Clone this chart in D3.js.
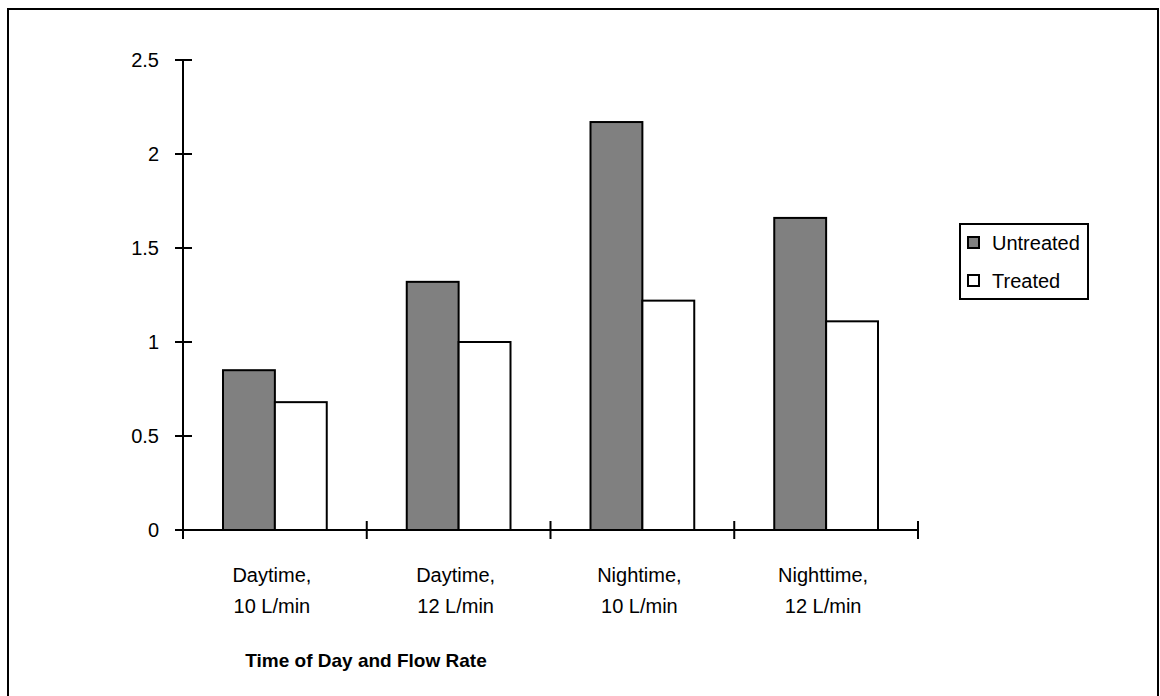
<!DOCTYPE html>
<html>
<head>
<meta charset="utf-8">
<script src="https://cdn.jsdelivr.net/npm/d3@7"></script>
<style>
  body { margin: 0; background: #fff; }
  svg { font-family: "Liberation Sans", Arial, sans-serif; }
</style>
</head>
<body>
<div id="chart"></div>
<script>
// data
const categories = [["Daytime,", "10 L/min"], ["Daytime,", "12 L/min"],
                    ["Nightime,", "10 L/min"], ["Nighttime,", "12 L/min"]];
const seriesNames = ["Untreated", "Treated"];
const untreated = [0.85, 1.32, 2.17, 1.66];
const treated = [0.68, 1.0, 1.22, 1.11];
const yTicks = [0, 0.5, 1, 1.5, 2, 2.5];
const fills = ["#808080", "#ffffff"];

const width = 1160, height = 696;
const svg = d3.select('#chart').append('svg')
    .attr('width', width)
    .attr('height', height);

// outer frame
svg.append('rect')
    .attr('x', 8).attr('y', 9)
    .attr('width', 1150).attr('height', 690)
    .attr('fill', 'none')
    .attr('stroke', '#000')
    .attr('stroke-width', 2);

const plot = {left: 183, right: 918, top: 60, bottom: 530};

const x = d3.scaleBand()
    .domain(d3.range(categories.length))
    .range([plot.left, plot.right]);
const x1 = d3.scaleBand()
    .domain(seriesNames)
    .range([40, x.bandwidth() - 40]);
const y = d3.scaleLinear()
    .domain([0, 2.5])
    .range([plot.bottom, plot.top]);

// bars
const values = [untreated, treated];
seriesNames.forEach((s, si) => {
    svg.append('g').selectAll('rect')
        .data(values[si])
        .enter().append('rect')
        .attr('x', (d, i) => x(i) + x1(s))
        .attr('y', d => y(d))
        .attr('width', x1.bandwidth())
        .attr('height', d => y(0) - y(d))
        .attr('fill', fills[si])
        .attr('stroke', '#000')
        .attr('stroke-width', 2);
});

// y axis
const yAxis = svg.append('g');
yAxis.append('line')
    .attr('x1', plot.left).attr('x2', plot.left)
    .attr('y1', y(2.5)).attr('y2', y(0))
    .attr('stroke', '#000').attr('stroke-width', 2);
yAxis.selectAll('.tick').data(yTicks).enter().append('line')
    .attr('x1', plot.left - 8).attr('x2', plot.left + 9)
    .attr('y1', d => y(d)).attr('y2', d => y(d))
    .attr('stroke', '#000').attr('stroke-width', 2);
yAxis.selectAll('text').data(yTicks).enter().append('text')
    .attr('x', plot.left - 24)
    .attr('y', d => y(d) + 7)
    .attr('text-anchor', 'end')
    .attr('font-size', 20)
    .text(d => d);

// x axis
const xAxis = svg.append('g');
xAxis.append('line')
    .attr('x1', plot.left).attr('x2', plot.right)
    .attr('y1', y(0)).attr('y2', y(0))
    .attr('stroke', '#000').attr('stroke-width', 2);
const xTickPos = d3.range(categories.length + 1)
    .map(i => i < categories.length ? x(i) : x(i - 1) + x.bandwidth());
xAxis.selectAll('.tick').data(xTickPos).enter().append('line')
    .attr('x1', d => d).attr('x2', d => d)
    .attr('y1', y(0) - 9).attr('y2', y(0) + 9)
    .attr('stroke', '#000').attr('stroke-width', 2);
const catLabels = xAxis.selectAll('.cat').data(categories).enter().append('text')
    .attr('x', (d, i) => x(i) + x.bandwidth() / 2 - 3)
    .attr('y', 582)
    .attr('text-anchor', 'middle')
    .attr('font-size', 20);
catLabels.append('tspan')
    .attr('x', (d, i) => x(i) + x.bandwidth() / 2 - 3)
    .text(d => d[0]);
catLabels.append('tspan')
    .attr('x', (d, i) => x(i) + x.bandwidth() / 2 - 3)
    .attr('dy', 31)
    .text(d => d[1]);

svg.append('text')
    .attr('x', 366).attr('y', 667)
    .attr('text-anchor', 'middle')
    .attr('font-size', 19)
    .attr('font-weight', 'bold')
    .text('Time of Day and Flow Rate');

// legend
const legend = svg.append('g');
legend.append('rect')
    .attr('x', 960).attr('y', 224)
    .attr('width', 128).attr('height', 75)
    .attr('fill', '#fff')
    .attr('stroke', '#000').attr('stroke-width', 2);
const li = legend.selectAll('.item').data(seriesNames).enter().append('g')
    .attr('transform', (d, i) => 'translate(0,' + (243 + i * 38) + ')');
li.append('rect')
    .attr('x', 968).attr('y', -6)
    .attr('width', 11).attr('height', 11)
    .attr('fill', (d, i) => fills[i])
    .attr('stroke', '#000').attr('stroke-width', 2);
li.append('text')
    .attr('x', 992).attr('y', 7)
    .attr('font-size', 20)
    .text(d => d);
</script>
</body>
</html>
